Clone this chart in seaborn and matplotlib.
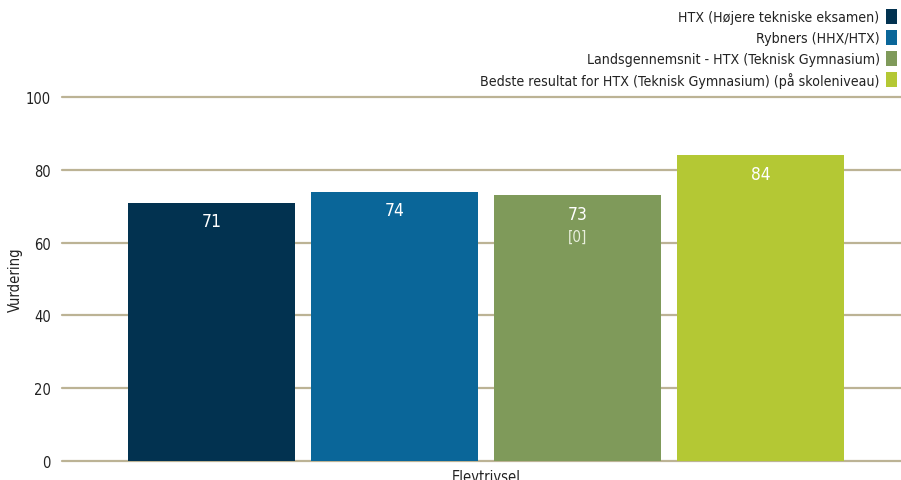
import matplotlib
matplotlib.use("Agg")
import matplotlib.pyplot as plt
from matplotlib.patches import Patch
import seaborn as sns
import pandas as pd

categories = ["Elevtrivsel"]
series = [
    "HTX (Højere tekniske eksamen)",
    "Rybners (HHX/HTX)",
    "Landsgennemsnit - HTX (Teknisk Gymnasium)",
    "Bedste resultat for HTX (Teknisk Gymnasium) (på skoleniveau)",
]
values = [71, 74, 73, 84]
extra_labels = ["", "", "[0]", ""]
colors = ["#023250", "#0a6699", "#7f9a5a", "#b4c834"]
yticks = [0, 20, 40, 60, 80, 100]

df = pd.DataFrame({"cat": categories * len(series), "series": series, "value": values})

sns.set_theme(style="white")
plt.rcParams["font.family"] = ["DejaVu Sans"]
plt.rcParams["font.stretch"] = "condensed"

fig = plt.figure(figsize=(9.01, 4.81), dpi=100)
ax = fig.add_axes([62 / 901, 1 - 462 / 481, (901 - 62) / 901, (462 - 98) / 481])

sns.barplot(data=df, x="cat", y="value", hue="series", palette=colors,
            width=0.8, gap=0.087, ax=ax, legend=False, saturation=1,
            edgecolor="none", linewidth=0)

ax.set_ylim(0, 100)
ax.set_xlim((62 - 486) / 915, (901 - 486) / 915)
ax.set_yticks(yticks)
ax.set_yticklabels([str(t) for t in yticks], fontsize=10.5, color="#222222")
ax.tick_params(axis="y", length=0, pad=8)
ax.tick_params(axis="x", length=0, pad=6, labelsize=10.5, labelcolor="#222222")
ax.set_xticks([0])
ax.set_xticklabels(categories)
ax.set_xlabel("")
ax.set_ylabel("Vurdering", fontsize=10.5, color="#222222", labelpad=2)
ax.yaxis.grid(True, color="#bcb395", linewidth=1.6)
for gl in ax.get_ygridlines():
    gl.set_clip_on(False)
ax.set_axisbelow(True)
for s in ax.spines.values():
    s.set_visible(False)

for patch, v, extra in zip(ax.patches, values, extra_labels):
    cx = patch.get_x() + patch.get_width() / 2
    ax.annotate(str(v), (cx, v), xytext=(0, -7), textcoords="offset points",
                ha="center", va="top", color="white", fontsize=12.5)
    if extra:
        ax.annotate(extra, (cx, v), xytext=(0, -24), textcoords="offset points",
                    ha="center", va="top", color="#e8eedc", fontsize=11)

handles = [Patch(facecolor=c, edgecolor="none") for c in colors]
fig.legend(handles, series, loc="upper right", bbox_to_anchor=(1.003, 0.994),
           frameon=False, markerfirst=False, handlelength=0.75, handleheight=1.25,
           handletextpad=0.45, labelspacing=0.4, fontsize=10.2, borderaxespad=0.1,
           labelcolor="#222222")
for t in fig.legends[0].get_texts():
    t.set_ha("right")

fig.savefig("out.png", dpi=100)
